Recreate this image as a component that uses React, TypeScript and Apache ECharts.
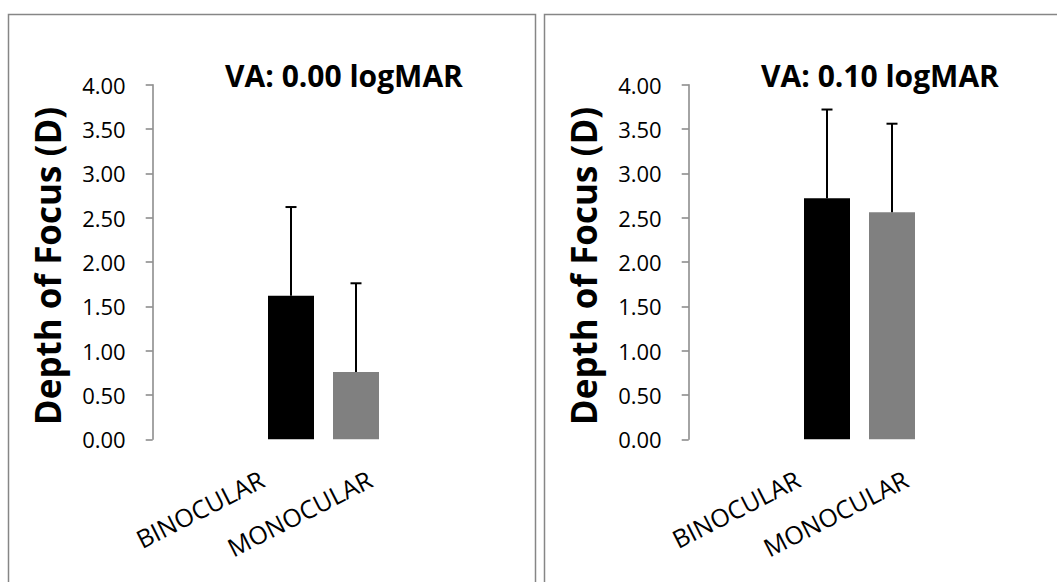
import React, { useEffect, useRef } from "react";
import * as echarts from "echarts";

const categories = ["BINOCULAR", "MONOCULAR"];
const titles = ["VA: 0.00 logMAR", "VA: 0.10 logMAR"];
const yAxisTitle = "Depth of Focus (D)";
const va000Means = [1.62, 0.76];
const va000Errors = [1.0, 1.0];
const va010Means = [2.72, 2.56];
const va010Errors = [1.0, 1.0];
const yTicks = { min: 0, max: 4, interval: 0.5 };
const barColors = ["#000000", "#808080"];

const FONT = "'Open Sans', sans-serif";
const AXIS_GRAY = "#868686";

export default function App() {
  const ref = useRef<HTMLDivElement>(null);
  useEffect(() => {
    if (!ref.current) return;
    const chart = echarts.init(ref.current, null, { renderer: "svg" });
    const panels = [
      { means: va000Means, errors: va000Errors, x0: 8 },
      { means: va010Means, errors: va010Errors, x0: 544 },
    ];
    const grids: any[] = [];
    const xAxes: any[] = [];
    const yAxes: any[] = [];
    const series: any[] = [];
    const graphics: any[] = [];
    panels.forEach((p, i) => {
      const dx = p.x0 - 8;
      grids.push({ left: 258.5 + dx, top: 84.7, width: 130, height: 354.6 });
      grids.push({ left: 208 + dx, top: 400, width: 216, height: 70 });
      xAxes.push({
        gridIndex: 2 * i,
        type: "category",
        data: categories,
        axisLine: { show: false },
        axisTick: { show: false },
        axisLabel: { show: false },
      });
      xAxes.push({
        gridIndex: 2 * i + 1,
        type: "category",
        data: categories,
        axisLine: { show: false },
        axisTick: { show: false },
        axisLabel: {
          rotate: 27,
          margin: 7,
          fontSize: 25,
          color: "#000",
          fontFamily: FONT,
        },
      });
      yAxes.push({
        gridIndex: 2 * i,
        type: "value",
        min: yTicks.min,
        max: yTicks.max,
        interval: yTicks.interval,
        offset: 105.8,
        axisLine: { show: true, lineStyle: { color: AXIS_GRAY, width: 1.5 } },
        axisTick: { show: true, length: 7, lineStyle: { color: AXIS_GRAY, width: 1.5 } },
        splitLine: { show: false },
        axisLabel: {
          formatter: (v: number) => v.toFixed(2),
          margin: 27,
          fontSize: 22,
          color: "#000",
          fontFamily: FONT,
        },
        name: yAxisTitle,
        nameLocation: "middle",
        nameGap: 88,
        nameTextStyle: {
          fontSize: 35,
          fontWeight: "bold",
          color: "#000",
          fontFamily: FONT,
          padding: [0, 8, 0, 0],
        },
      });
      yAxes.push({
        gridIndex: 2 * i + 1,
        type: "value",
        min: 0,
        max: 1,
        show: false,
      });
      series.push({
        type: "bar",
        xAxisIndex: 2 * i,
        yAxisIndex: 2 * i,
        barWidth: 46,
        data: p.means.map((m, k) => ({ value: m, itemStyle: { color: barColors[k] } })),
      });
      series.push({
        type: "custom",
        xAxisIndex: 2 * i,
        yAxisIndex: 2 * i,
        data: p.means.map((m, k) => [k, m, m + p.errors[k]]),
        renderItem: (params: any, api: any) => {
          const base = api.coord([api.value(0), api.value(1)]);
          const top = api.coord([api.value(0), api.value(2)]);
          const style = { stroke: "#000", lineWidth: 2 };
          return {
            type: "group",
            children: [
              { type: "line", shape: { x1: base[0], y1: base[1], x2: top[0], y2: top[1] }, style },
              { type: "line", shape: { x1: top[0] - 5.5, y1: top[1], x2: top[0] + 5.5, y2: top[1] }, style },
            ],
          };
        },
        z: 3,
      });
      graphics.push({
        type: "rect",
        shape: { x: p.x0 + 0.5, y: 14.5, width: 527, height: 620 },
        style: { fill: "none", stroke: AXIS_GRAY, lineWidth: 1.5 },
        silent: true,
      });
      graphics.push({
        type: "text",
        x: 344 + dx,
        y: 75,
        style: {
          text: titles[i],
          textAlign: "center",
          textVerticalAlign: "middle",
          fontSize: 30,
          fontWeight: "bold",
          fontFamily: FONT,
          fill: "#000",
        },
      });
    });
    chart.setOption({
      animation: false,
      backgroundColor: "#ffffff",
      grid: grids,
      xAxis: xAxes,
      yAxis: yAxes,
      series,
      graphic: graphics,
    });
    return () => chart.dispose();
  }, []);
  return (
    <div
      ref={ref}
      style={{ position: "absolute", left: 0, top: 0, width: 1057, height: 582, background: "#fff" }}
    />
  );
}
